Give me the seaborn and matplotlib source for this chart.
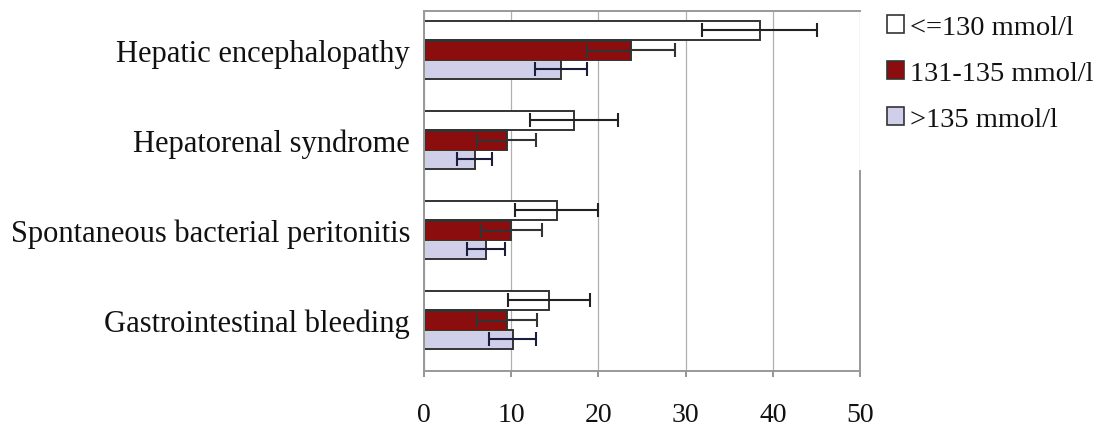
#!/usr/bin/env python
"""
  Complications by serum sodium group, horizontal bars with error bars
"""

import matplotlib

matplotlib.use("Agg")
import matplotlib.pyplot as plt
from matplotlib.patches import Patch
import seaborn as sns
import pandas as pd

COMPLICATIONS = [
    "Hepatic encephalopathy",
    "Hepatorenal syndrome",
    "Spontaneous bacterial peritonitis",
    "Gastrointestinal bleeding",
]
GROUPS = ["<=130 mmol/l", "131-135 mmol/l", ">135 mmol/l"]
LOW_NA = [38.5, 17.2, 15.2, 14.3]
MID_NA = [23.7, 9.5, 10.0, 9.5]
HIGH_NA = [15.7, 5.8, 7.1, 10.2]
LOW_ERR = [6.6, 5.1, 4.8, 4.7]
MID_ERR = [5.1, 3.4, 3.5, 3.5]
HIGH_ERR = [3.0, 2.0, 2.2, 2.7]

COLORS = ["#ffffff", "#8b0d0d", "#cfcfea"]
ERR_COLORS = ["#222222", "#333333", "#1c1c3c"]


def main():
    sns.set_theme(style="white")
    plt.rcParams["font.family"] = ["Liberation Serif", "DejaVu Serif"]
    plt.rcParams["text.color"] = "#111111"
    plt.rcParams["xtick.labelcolor"] = "#111111"
    plt.rcParams["ytick.labelcolor"] = "#111111"

    frame = pd.DataFrame(
        {
            "complication": COMPLICATIONS * 3,
            "group": [g for g in GROUPS for _ in COMPLICATIONS],
            "pct": LOW_NA + MID_NA + HIGH_NA,
        }
    )
    errs = [LOW_ERR, MID_ERR, HIGH_ERR]

    fig = plt.figure(figsize=(11.09, 4.27), dpi=100)
    ax = fig.add_axes([424 / 1109, 1 - 372 / 427, 436 / 1109, 360 / 427])

    sns.barplot(
        data=frame, x="pct", y="complication", hue="group",
        order=COMPLICATIONS, hue_order=GROUPS, palette=COLORS,
        orient="h", width=0.65, errorbar=None, legend=False,
        edgecolor="#333333", linewidth=1.4, saturation=1, ax=ax,
    )

    # error bars centred on the seaborn bars
    bar_containers = list(ax.containers)
    for i, container in enumerate(bar_containers):
        ys = [p.get_y() + p.get_height() / 2 for p in container.patches]
        xs = [p.get_width() for p in container.patches]
        ax.errorbar(
            xs, ys, xerr=errs[i], fmt="none", ecolor=ERR_COLORS[i],
            elinewidth=1.5, capsize=4.7, capthick=1.5, zorder=5,
        )

    ax.set_xlim(0, 50)
    ax.set_ylim(3.567, -0.433)
    ax.set_xticks([0, 10, 20, 30, 40, 50])
    ax.xaxis.grid(True, color="#b0b0b0", linewidth=0.9)
    ax.set_axisbelow(True)
    ax.set(xlabel="", ylabel="")
    ax.tick_params(axis="x", labelsize=20, pad=18, length=4, color="#888888",
                   bottom=True, direction="out")
    ax.tick_params(axis="y", labelsize=22, length=0, pad=10)
    for side in ["top", "bottom", "left", "right"]:
        ax.spines[side].set_color("#999999")
        ax.spines[side].set_linewidth(1.4)
    ax.spines["right"].set_bounds(1.344, 3.567)

    handles = [Patch(facecolor=c, edgecolor="#333333", linewidth=1.2) for c in COLORS]
    fig.legend(
        handles, GROUPS, loc="upper left", bbox_to_anchor=(876 / 1109, 1 - 5 / 427),
        frameon=False, fontsize=20.5, handlelength=0.6, handleheight=0.6,
        handletextpad=0.2, labelspacing=0.72, borderaxespad=0,
    )

    fig.savefig("out.png", dpi=100)


if __name__ == "__main__":
    main()
